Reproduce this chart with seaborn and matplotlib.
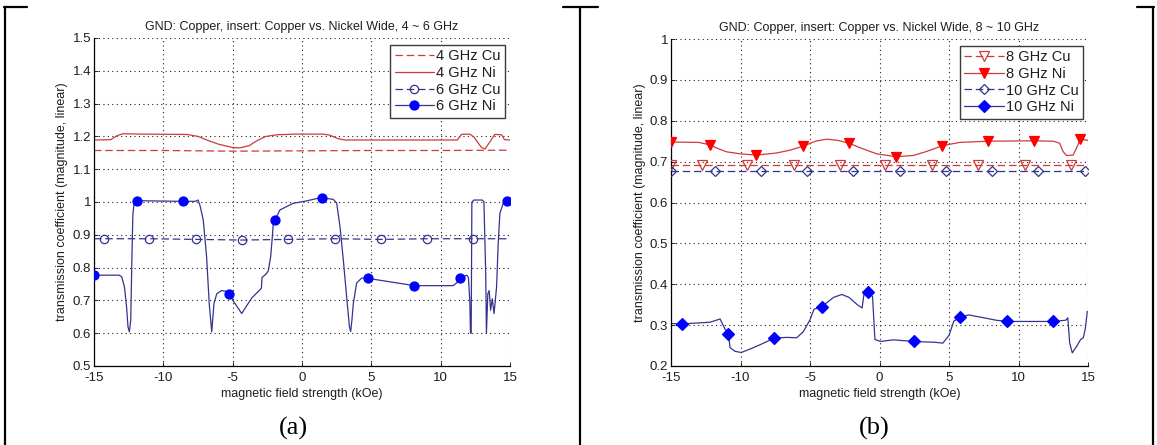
import matplotlib
matplotlib.use("Agg")
import matplotlib.pyplot as plt
import seaborn as sns
from matplotlib.lines import Line2D

# ---------------- data: panel (a), 4 ~ 6 GHz ----------------
x_4cu = [-15, -10, -5, 0, 5, 10, 15]
y_4cu = [1.157, 1.157, 1.155, 1.156, 1.157, 1.157, 1.158]

x_4ni = [-15, -13.8, -13.3, -12.9, -11.5, -8.3, -7.5, -6.8, -6.0, -5.0, -4.5,
         -3.8, -3.2, -2.6, -1.8, -0.5, 1.5, 2.0, 2.6, 3.1, 11.2, 11.5, 12.1,
         12.4, 12.7, 12.95, 13.2, 13.5, 13.9, 14.4, 14.6, 15]
y_4ni = [1.189, 1.190, 1.203, 1.208, 1.207, 1.206, 1.200, 1.188, 1.176, 1.166, 1.165,
         1.172, 1.188, 1.200, 1.205, 1.207, 1.207, 1.204, 1.193, 1.189, 1.189, 1.206, 1.207,
         1.198, 1.180, 1.166, 1.162, 1.180, 1.206, 1.205, 1.190, 1.189]

x_6cu = [-15, -14.3, -11.0, -7.65, -4.3, -1.0, 2.35, 5.7, 9.0, 12.3, 15]
y_6cu = [0.888, 0.888, 0.888, 0.886, 0.884, 0.886, 0.888, 0.886, 0.888, 0.888, 0.888]
x_6cu_mk = [-14.3, -11.0, -7.65, -4.3, -1.0, 2.35, 5.7, 9.0, 12.3]
y_6cu_mk = [0.888, 0.888, 0.886, 0.884, 0.886, 0.888, 0.886, 0.888, 0.888]

x_6ni = [-15, -13.2, -13.0, -12.8, -12.65, -12.55, -12.45, -12.35, -12.28, -12.2, -12.1,
         -11.92, -8.58, -7.7, -7.5, -7.36, -7.12, -6.88, -6.69, -6.51, -6.35, -6.15,
         -5.8, -5.5, -5.27, -4.9, -4.35, -3.63, -2.93, -2.88, -2.6, -2.43, -2.26,
         -2.14, -2.07, -1.95, -1.59, -0.63, 0.3, 1.0, 1.42, 2.25, 2.5, 2.74, 2.98,
         3.22, 3.42, 3.51, 3.6, 3.7, 3.94, 4.3, 4.78, 8.1, 10.9, 11.2, 11.41, 11.87,
         12.0, 12.1, 12.15, 12.2, 12.25, 12.4, 13.0, 13.12, 13.25, 13.3, 13.4, 13.5,
         13.6, 13.72, 13.85, 14.03, 14.15, 14.27, 14.5, 14.75, 15]
y_6ni = [0.777, 0.777, 0.772, 0.740, 0.680, 0.620, 0.604, 0.640, 0.800, 0.960, 1.000,
         1.004, 1.002, 1.002, 1.006, 0.990, 0.945, 0.833, 0.690, 0.604, 0.690, 0.720,
         0.730, 0.728, 0.720, 0.695, 0.660, 0.707, 0.737, 0.770, 0.780, 0.790, 0.833,
         0.894, 0.935, 0.945, 0.976, 0.996, 1.003, 1.010, 1.013, 1.008, 0.997, 0.925, 0.823,
         0.711, 0.620, 0.605, 0.640, 0.690, 0.753, 0.768, 0.767, 0.745, 0.745, 0.755, 0.767, 0.777,
         0.770, 0.700, 0.600, 0.600, 1.000, 1.006, 1.006, 1.000, 0.780, 0.600, 0.720, 0.730,
         0.670, 0.705, 0.660, 0.740, 0.874, 0.965, 0.995, 1.004, 1.006]
x_6ni_mk = [-15, -11.92, -8.58, -5.27, -1.95, 1.42, 4.78, 8.1, 11.41, 14.75]
y_6ni_mk = [0.777, 1.004, 1.002, 0.720, 0.945, 1.013, 0.767, 0.745, 0.767, 1.004]

# ---------------- data: panel (b), 8 ~ 10 GHz ----------------
x_8cu = [-15, 15]
y_8cu = [0.692, 0.692]
x_8cu_mk = [-15, -12.8, -9.5, -6.17, -2.85, 0.43, 3.8, 7.1, 10.45, 13.78]
y_8cu_mk = [0.692] * 10

x_8ni = [-15, -13.0, -12.19, -11.7, -11.0, -10.0, -8.87, -7.43, -6.44, -5.48, -4.6,
         -3.8, -3.0, -2.19, -1.4, -0.2, 1.19, 2.43, 3.4, 4.53, 5.77, 7.83, 11.14,
         12.5, 12.96, 13.2, 13.45, 13.93, 14.2, 14.45, 15]
y_8ni = [0.748, 0.747, 0.741, 0.733, 0.724, 0.719, 0.716, 0.721, 0.728, 0.738, 0.750,
         0.755, 0.752, 0.745, 0.734, 0.719, 0.712, 0.715, 0.725, 0.739, 0.747, 0.750, 0.751,
         0.750, 0.745, 0.725, 0.715, 0.716, 0.735, 0.755, 0.752]
x_8ni_mk = [-15, -12.19, -8.87, -5.48, -2.19, 1.19, 4.53, 7.83, 11.14, 14.45]
y_8ni_mk = [0.748, 0.741, 0.716, 0.738, 0.745, 0.712, 0.739, 0.750, 0.751, 0.755]

x_10cu = [-15, 15]
y_10cu = [0.676, 0.676]
x_10cu_mk = [-15, -11.83, -8.56, -5.24, -1.94, 1.46, 4.79, 8.1, 11.42, 14.75]
y_10cu_mk = [0.676] * 10

x_10ni = [-15, -14.23, -12.2, -11.47, -11.11, -10.87, -10.75, -10.4, -9.95, -9.2, -8.6,
          -7.57, -6.68, -5.96, -5.48, -5.0, -4.71, -4.16, -3.3, -2.71, -2.2, -1.6, -1.25,
          -1.12, -0.81, -0.5, -0.33, 0.07, 1.0, 2.47, 4.0, 4.56, 5.0, 5.35, 5.8, 6.4,
          7.5, 8.39, 9.19, 12.49, 13.4, 13.55, 13.68, 13.87, 14.2, 14.47, 14.66, 14.8, 14.95]
y_10ni = [0.304, 0.303, 0.307, 0.315, 0.290, 0.278, 0.245, 0.236, 0.233, 0.243, 0.252,
          0.268, 0.270, 0.269, 0.284, 0.313, 0.339, 0.345, 0.368, 0.375, 0.368, 0.350, 0.342,
          0.375, 0.380, 0.370, 0.265, 0.260, 0.264, 0.260, 0.258, 0.256, 0.275, 0.310, 0.319,
          0.325, 0.318, 0.312, 0.309, 0.309, 0.312, 0.318, 0.257, 0.232, 0.249, 0.265, 0.269,
          0.290, 0.334]
x_10ni_mk = [-14.23, -10.87, -7.57, -4.16, -0.81, 2.47, 5.8, 9.19, 12.49]
y_10ni_mk = [0.303, 0.278, 0.268, 0.345, 0.380, 0.260, 0.319, 0.309, 0.309]

# ---------------- axis text ----------------
x_ticks = [-15, -10, -5, 0, 5, 10, 15]
x_ticklabels = ["-15", "-10", "-5", "0", "5", "10", "15"]
a_yticks = [0.5, 0.6, 0.7, 0.8, 0.9, 1.0, 1.1, 1.2, 1.3, 1.4, 1.5]
a_yticklabels = ["0.5", "0.6", "0.7", "0.8", "0.9", "1", "1.1", "1.2", "1.3", "1.4", "1.5"]
b_yticks = [0.2, 0.3, 0.4, 0.5, 0.6, 0.7, 0.8, 0.9, 1.0]
b_yticklabels = ["0.2", "0.3", "0.4", "0.5", "0.6", "0.7", "0.8", "0.9", "1"]
a_title = "GND: Copper, insert: Copper vs. Nickel Wide, 4 ~ 6 GHz"
b_title = "GND: Copper, insert: Copper vs. Nickel Wide, 8 ~ 10 GHz"
x_label = "magnetic field strength (kOe)"
y_label = "transmission coefficient (magnitude, linear)"
a_labels = ["4 GHz Cu", "4 GHz Ni", "6 GHz Cu", "6 GHz Ni"]
b_labels = ["8 GHz Cu", "8 GHz Ni", "10 GHz Cu", "10 GHz Ni"]

# ---------------- style ----------------
sns.set_style("white")
plt.rcParams["font.family"] = ["Liberation Sans", "DejaVu Sans"]

RED_LINE = "#cc3a3a"
RED_MK = "#ff0000"
BLUE_LINE = "#34348e"
BLUE_MK = "#0000ff"
DASH = (0, (6, 3))
TXT = "#1e1e1e"

W, H = 1157, 445
fig = plt.figure(figsize=(W / 100, H / 100), dpi=100)
fig.patch.set_facecolor("white")


def px_axes(x0, y0, x1, y1):
    return fig.add_axes([x0 / W, 1 - y1 / H, (x1 - x0) / W, (y1 - y0) / H])


def style_axes(ax, ylim, yticks, yticklabels, title):
    ax.set_xlim(-15, 15)
    ax.set_ylim(*ylim)
    ax.set_xticks(x_ticks)
    ax.set_xticklabels(x_ticklabels)
    ax.set_yticks(yticks)
    ax.set_yticklabels(yticklabels)
    ax.set_axisbelow(True)
    ax.grid(True, linestyle=(0, (1, 3)), color="#222222", linewidth=0.8)
    for side in ("left", "bottom"):
        ax.spines[side].set_color("black")
        ax.spines[side].set_linewidth(0.9)
    for side in ("top", "right"):
        ax.spines[side].set_visible(False)
    ax.tick_params(direction="in", length=3, width=0.7, labelsize=9.5,
                   labelcolor=TXT, left=True, bottom=True)
    ax.tick_params(axis="y", pad=2)
    ax.tick_params(axis="x", pad=4.5)
    ax.set_title(title, fontsize=9, color=TXT, pad=6)
    ax.set_xlabel(x_label, fontsize=9, color=TXT, labelpad=3)
    ax.set_ylabel(y_label, fontsize=9, color=TXT, labelpad=3)


def curve(ax, x, y, color, ls="-", lw=0.9):
    sns.lineplot(x=x, y=y, ax=ax, color=color, linestyle=ls, linewidth=lw,
                 sort=False, estimator=None, legend=False, zorder=2)


def marks(ax, x, y, marker, size, face, edge):
    sns.lineplot(x=x, y=y, ax=ax, color=edge, linestyle="none", marker=marker,
                 markersize=size, markerfacecolor=face, markeredgecolor=edge,
                 markeredgewidth=0.9, sort=False, estimator=None, legend=False,
                 zorder=3)


def proxy(color, ls, marker=None, size=6, face=None, edge=None):
    return Line2D([], [], color=color, linestyle=ls, linewidth=0.9,
                  marker=marker, markersize=size,
                  markerfacecolor=face, markeredgecolor=edge, markeredgewidth=0.9)


def add_legend(ax, handles, labels):
    leg = ax.legend(handles, labels, loc="upper right",
                    bbox_to_anchor=(1 - 5 / 417, 1 - 7 / 328), borderaxespad=0,
                    fontsize=10.5, frameon=True, fancybox=False, framealpha=1,
                    edgecolor="#3a3a3a", handlelength=2.7, handletextpad=0.15,
                    labelspacing=0.18, borderpad=0.3)
    leg.get_frame().set_linewidth(1.0)
    for t in leg.get_texts():
        t.set_color(TXT)


# ---------------- panel (a) ----------------
ax_a = px_axes(94, 38, 510, 366)
style_axes(ax_a, (0.5, 1.5), a_yticks, a_yticklabels, a_title)
curve(ax_a, x_4cu, y_4cu, RED_LINE, DASH)
curve(ax_a, x_4ni, y_4ni, RED_LINE)
curve(ax_a, x_6cu, y_6cu, BLUE_LINE, DASH)
marks(ax_a, x_6cu_mk, y_6cu_mk, "o", 6, "none", BLUE_LINE)
curve(ax_a, x_6ni, y_6ni, BLUE_LINE)
marks(ax_a, x_6ni_mk, y_6ni_mk, "o", 6.5, BLUE_MK, BLUE_MK)
add_legend(ax_a, [
    proxy(RED_LINE, DASH),
    proxy(RED_LINE, "-"),
    proxy(BLUE_LINE, DASH, "o", 6, "none", BLUE_LINE),
    proxy(BLUE_LINE, "-", "o", 6.5, BLUE_MK, BLUE_MK),
], a_labels)

# ---------------- panel (b) ----------------
ax_b = px_axes(671, 39, 1088, 366)
style_axes(ax_b, (0.2, 1.0), b_yticks, b_yticklabels, b_title)
curve(ax_b, x_8cu, y_8cu, RED_LINE, DASH)
marks(ax_b, x_8cu_mk, y_8cu_mk, "v", 6.5, "none", RED_LINE)
curve(ax_b, x_8ni, y_8ni, RED_LINE)
marks(ax_b, x_8ni_mk, y_8ni_mk, "v", 7, RED_MK, RED_MK)
curve(ax_b, x_10cu, y_10cu, BLUE_LINE, DASH)
marks(ax_b, x_10cu_mk, y_10cu_mk, "D", 5.5, "none", BLUE_LINE)
curve(ax_b, x_10ni, y_10ni, BLUE_LINE)
marks(ax_b, x_10ni_mk, y_10ni_mk, "D", 6, BLUE_MK, BLUE_MK)
add_legend(ax_b, [
    proxy(RED_LINE, DASH, "v", 6.5, "none", RED_LINE),
    proxy(RED_LINE, "-", "v", 7, RED_MK, RED_MK),
    proxy(BLUE_LINE, DASH, "D", 5.5, "none", BLUE_LINE),
    proxy(BLUE_LINE, "-", "D", 6, BLUE_MK, BLUE_MK),
], b_labels)

# ---------------- table frame and captions ----------------
def frame_line(x0, y0, x1, y1, lw=1.6):
    fig.add_artist(Line2D([x0 / W, x1 / W], [1 - y0 / H, 1 - y1 / H],
                          transform=fig.transFigure, color="black", linewidth=lw))

for xv in (5, 580, 1153):
    frame_line(xv, 7, xv, H)
for xa, xb in ((4, 27), (563, 598), (1137, 1154)):
    frame_line(xa, 7, xb, 7)

fig.text(293 / W, 1 - 428 / H, "(a)", ha="center", va="center", fontsize=19,
         family=["Liberation Serif", "DejaVu Serif"], color="black")
fig.text(874 / W, 1 - 428 / H, "(b)", ha="center", va="center", fontsize=19,
         family=["Liberation Serif", "DejaVu Serif"], color="black")

fig.savefig("out.png", dpi=100, facecolor="white")
